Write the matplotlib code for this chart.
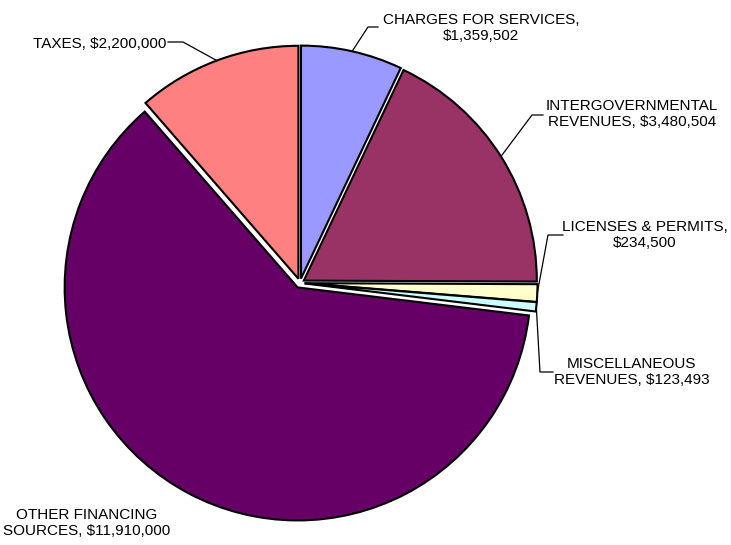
import numpy as np
import matplotlib
matplotlib.use('Agg')
import matplotlib.pyplot as plt

plt.rcParams['font.family'] = ['Liberation Sans', 'DejaVu Sans']

categories = ['CHARGES FOR SERVICES', 'INTERGOVERNMENTAL REVENUES',
              'LICENSES & PERMITS', 'MISCELLANEOUS REVENUES',
              'OTHER FINANCING SOURCES', 'TAXES']
amounts = [1359502, 3480504, 234500, 123493, 11910000, 2200000]
label_text = ['CHARGES FOR SERVICES,\n$1,359,502',
              'INTERGOVERNMENTAL\nREVENUES, $3,480,504',
              'LICENSES & PERMITS,\n$234,500',
              'MISCELLANEOUS\nREVENUES, $123,493',
              'OTHER FINANCING\nSOURCES, $11,910,000',
              'TAXES, $2,200,000']
colors = ['#9999FF', '#993366', '#FFFFCC', '#CCFFFF', '#660066', '#FF8080']

W, H = 731, 545
fig = plt.figure(figsize=(W / 100, H / 100), dpi=100)
ax = fig.add_axes([0, 0, 1, 1])

# pie geometry in pixel units (explode is an absolute offset here)
cx, cy, r = 300, H - 283, 233
explode = [4.5, 4.5, 4.5, 4.5, 5.0, 4.5]
wedges, _ = ax.pie(amounts, colors=colors, startangle=90, counterclock=False,
                   center=(cx, cy), radius=r, explode=explode,
                   wedgeprops=dict(edgecolor='black', linewidth=1.5))
ax.set_xlim(0, W)
ax.set_ylim(0, H)
ax.set_aspect('equal')
ax.axis('off')

# label layout in pixel coords: (text x, text y, elbow, line end)
layout = [
    (481, 28, (368, 27), (378, 27)),
    (632, 114, (532, 115), (543, 115)),
    (645, 235, (548, 235), (563, 235)),
    (632, 372, (540, 372), (553, 372)),
    (87, 523, None, None),
    (100, 44, (183, 42), (168, 42)),
]

total = sum(amounts)
ang = 90.0
for i, (v, txt) in enumerate(zip(amounts, label_text)):
    frac = v / total * 360
    mid = np.deg2rad(ang - frac / 2)
    ang -= frac
    tx, ty, elbow, end = layout[i]
    ax.text(tx, H - ty, txt, ha='center', va='center', fontsize=11,
            linespacing=1.25)
    if elbow is not None:
        ox, oy = cx + explode[i] * np.cos(mid), cy + explode[i] * np.sin(mid)
        sx, sy = ox + r * np.cos(mid), oy + r * np.sin(mid)
        ax.plot([sx, elbow[0], end[0]], [sy, H - elbow[1], H - end[1]],
                color='black', lw=0.9)

fig.savefig('out.png', dpi=100)
